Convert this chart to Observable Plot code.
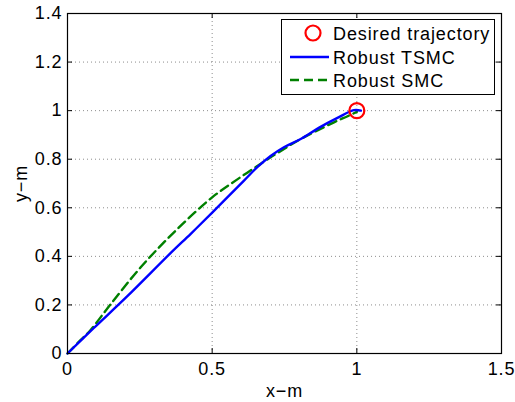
<!DOCTYPE html>
<html><head><meta charset="utf-8">
<script src="https://cdn.jsdelivr.net/npm/d3@7"></script>
<script src="https://cdn.jsdelivr.net/npm/@observablehq/plot@0.6"></script>
<style>
body{margin:0;background:#fff;}
#wrap{position:relative;width:515px;height:402px;font-family:"Liberation Sans",Arial,sans-serif;}
#wrap svg text{letter-spacing:0.9px;}
</style></head>
<body><div id="wrap"></div>
<script>
const xTicks = [0, 0.5, 1, 1.5];
const yTicks = [0, 0.2, 0.4, 0.6, 0.8, 1, 1.2, 1.4];
const tsmcX = [0, 0.091, 0.206, 0.356, 0.426, 0.501, 0.61, 0.656, 0.702, 0.748, 0.806, 0.87, 0.933, 0.99, 1.014];
const tsmcY = [0, 0.105, 0.235, 0.413, 0.493, 0.581, 0.712, 0.767, 0.813, 0.849, 0.883, 0.930, 0.970, 1.002, 1.0];
const smcX = [0, 0.045, 0.08, 0.149, 0.253, 0.368, 0.5, 0.587, 0.679, 0.726, 0.806, 0.921, 0.968, 1.0];
const smcY = [0, 0.055, 0.097, 0.203, 0.355, 0.499, 0.643, 0.717, 0.790, 0.826, 0.883, 0.952, 0.977, 0.995];
const desiredX = [1];
const desiredY = [1];
const seriesNames = ["Desired trajectory", "Robust TSMC", "Robust SMC"];

const tsmc = tsmcX.map((x, i) => ({x, y: tsmcY[i]}));
const smc = smcX.map((x, i) => ({x, y: smcY[i]}));
const desired = desiredX.map((x, i) => ({x, y: desiredY[i]}));

const fmt = d => String(d);
const plot = Plot.plot({
  width: 515, height: 402,
  marginLeft: 67, marginRight: 14, marginTop: 13, marginBottom: 49,
  style: {fontFamily: "Liberation Sans, Arial, sans-serif", fontSize: "18px", color: "#000", background: "#fff"},
  x: {domain: [0, 1.5]},
  y: {domain: [0, 1.4]},
  marks: [
    Plot.gridX(xTicks, {stroke: "#000", strokeOpacity: 0.45, strokeDasharray: "1,3"}),
    Plot.gridY(yTicks, {stroke: "#000", strokeOpacity: 0.45, strokeDasharray: "1,3"}),
    Plot.axisX(xTicks, {anchor: "bottom", tickSize: 0, tickPadding: 9, tickFormat: fmt, label: "x−m", labelAnchor: "center", labelArrow: "none", labelOffset: 43, fontSize: 18}),
    Plot.axisY(yTicks, {anchor: "left", tickSize: 0, tickPadding: 5, tickFormat: fmt, label: "y−m", labelAnchor: "center", labelArrow: "none", labelOffset: 53, fontSize: 18}),
    Plot.tickX(xTicks, {x: d => d, insetTop: 335, stroke: "#000"}),
    Plot.tickX(xTicks, {x: d => d, insetBottom: 335, stroke: "#000"}),
    Plot.tickY(yTicks, {y: d => d, insetLeft: 429, stroke: "#000"}),
    Plot.tickY(yTicks, {y: d => d, insetRight: 429, stroke: "#000"}),
    Plot.line(smc, {x: "x", y: "y", stroke: "#008000", strokeWidth: 2.4, strokeDasharray: "9,5", curve: "catmull-rom"}),
    Plot.line(tsmc, {x: "x", y: "y", stroke: "#0000ff", strokeWidth: 2.4, curve: "catmull-rom"}),
    Plot.dot(desired, {x: "x", y: "y", r: 7.5, stroke: "#ff0000", strokeWidth: 2.2, fill: "none"}),
    Plot.frame({stroke: "#000", strokeWidth: 1.2})
  ]
});
const wrap = document.getElementById("wrap");
wrap.appendChild(plot);

// legend
const ns = "http://www.w3.org/2000/svg";
const lg = document.createElementNS(ns, "svg");
lg.setAttribute("width", 215); lg.setAttribute("height", 77);
lg.style.position = "absolute"; lg.style.left = "281px"; lg.style.top = "19px";
function el(tag, attrs) { const e = document.createElementNS(ns, tag); for (const k in attrs) e.setAttribute(k, attrs[k]); lg.appendChild(e); return e; }
el("rect", {x: 0.5, y: 0.5, width: 213, height: 75, fill: "#fff", stroke: "#000", "stroke-width": 1});
el("circle", {cx: 32, cy: 14, r: 7.5, fill: "none", stroke: "#ff0000", "stroke-width": 2.2});
el("line", {x1: 9, x2: 48, y1: 38, y2: 38, stroke: "#0000ff", "stroke-width": 2.4});
el("line", {x1: 9, x2: 48, y1: 61, y2: 61, stroke: "#008000", "stroke-width": 2.4, "stroke-dasharray": "9,5"});
const rowsY = [14, 38, 61];
seriesNames.forEach((s, i) => {
  const t = el("text", {x: 52, y: rowsY[i] + 6.5, "font-size": 18, "font-family": "Liberation Sans, Arial, sans-serif", fill: "#000"});
  t.textContent = s;
});
wrap.appendChild(lg);
</script></body></html>
